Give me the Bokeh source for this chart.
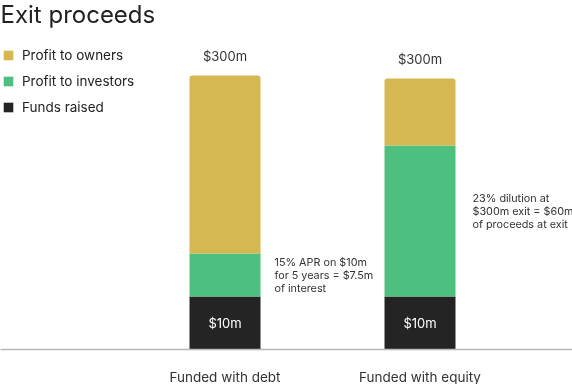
from bokeh.plotting import figure
from bokeh.models import Range1d, LinearAxis, FixedTicker, Label, Legend, LegendItem, ColumnDataSource
from bokeh.core.properties import value
from bokeh.embed import file_html
from bokeh.resources import INLINE
import numpy as np

# ---- data (display heights) ----
categories = ["Funded with debt", "Funded with equity"]
funds_raised = [53, 53]
profit_investors = [43, 151]
profit_owners = [178, 67]
total_labels = ["$300m", "$300m"]
funds_labels = ["$10m", "$10m"]
notes = ["15% APR on $10m\nfor 5 years = $7.5m\nof interest",
         "23% dilution at\n$300m exit = $60m\nof proceeds at exit"]
series_names = ["Funds raised", "Profit to investors", "Profit to owners"]

# ---- layout / style ----
note_dx = [14, 17]
note_dy = [0, -9.5]
FONT = "Inter"
C_FUNDS, C_INV, C_OWN = "#242424", "#4dc07f", "#d7b752"
BAR_W = 71 / 195

xs = np.arange(len(categories))
f = np.array(funds_raised, dtype=float)
i = np.array(profit_investors, dtype=float)
o = np.array(profit_owners, dtype=float)

src = ColumnDataSource(dict(
    x=xs, funds=f, investors=i, owners=o,
    top=f + i + o, funds_mid=f / 2, inv_mid=f + i / 2,
    x_right=xs + BAR_W / 2,
    total_label=total_labels, funds_label=funds_labels, note=notes,
    note_dx=note_dx, note_dy=note_dy,
))

p = figure(frame_width=572, frame_height=349,
           x_range=Range1d(-224.5 / 195, (572 - 224.5) / 195),
           y_range=Range1d(0, 349),
           output_backend="svg", toolbar_location=None,
           min_border_left=0, min_border_right=0, min_border_top=0, min_border_bottom=35,
           x_axis_location=None, y_axis_location=None)
p.outline_line_color = None
p.xgrid.visible = False
p.ygrid.visible = False
p.background_fill_color = "white"
p.border_fill_color = "white"
p.styles = {"position": "fixed", "left": "0px", "top": "0px"}

rs = p.vbar_stack(["funds", "investors", "owners"], x="x", width=BAR_W, source=src,
                  fill_color=[C_FUNDS, C_INV, C_OWN], line_color=None)
if hasattr(rs[2].glyph, "border_radius"):
    rs[2].glyph.border_radius = (3, 3, 0, 0)

axis = LinearAxis(ticker=FixedTicker(ticks=list(xs)),
                  major_label_overrides={int(k): c for k, c in zip(xs, categories)})
axis.axis_line_color = "#b8b8b8"
axis.axis_line_width = 1.5
axis.major_tick_line_color = None
axis.minor_tick_line_color = None
axis.major_tick_out = 0
axis.major_tick_in = 0
axis.major_label_standoff = 19
axis.major_label_text_font = FONT
axis.major_label_text_font_size = "13.5px"
axis.major_label_text_color = "#333333"
p.add_layout(axis, "below")

p.text(x="x", y="top", text="total_label", y_offset=-20, source=src,
       text_align="center", text_baseline="middle", text_font=value(FONT),
       text_font_size="13px", text_color="#333333")
p.text(x="x", y="funds_mid", text="funds_label", source=src,
       text_align="center", text_baseline="middle", text_font=value(FONT),
       text_font_size="13px", text_color="#ffffff")
p.text(x="x_right", y="inv_mid", text="note", x_offset="note_dx", y_offset="note_dy", source=src,
       text_align="left", text_baseline="middle", text_font=value(FONT),
       text_font_size="10.8px", text_color="#333333", text_line_height=1.0)

p.add_layout(Label(x=0, y=335, x_units="screen", y_units="screen", text="Exit proceeds",
                   text_font=FONT, text_font_size="24px", text_color="#222222",
                   text_baseline="alphabetic"))

legend = Legend(items=[LegendItem(label=series_names[2], renderers=[rs[2]]),
                       LegendItem(label=series_names[1], renderers=[rs[1]]),
                       LegendItem(label=series_names[0], renderers=[rs[0]])],
                location=(2, 234))
legend.padding = 0
legend.margin = 0
legend.glyph_width = 12
legend.glyph_height = 12
legend.label_height = 16
legend.spacing = 10
legend.label_standoff = 8
legend.label_text_font = FONT
legend.label_text_font_size = "13.5px"
legend.label_text_color = "#222222"
legend.label_text_baseline = "middle"
legend.background_fill_alpha = 0
legend.border_line_color = None
p.add_layout(legend)

open("out.html", "w").write(file_html(p, INLINE))
